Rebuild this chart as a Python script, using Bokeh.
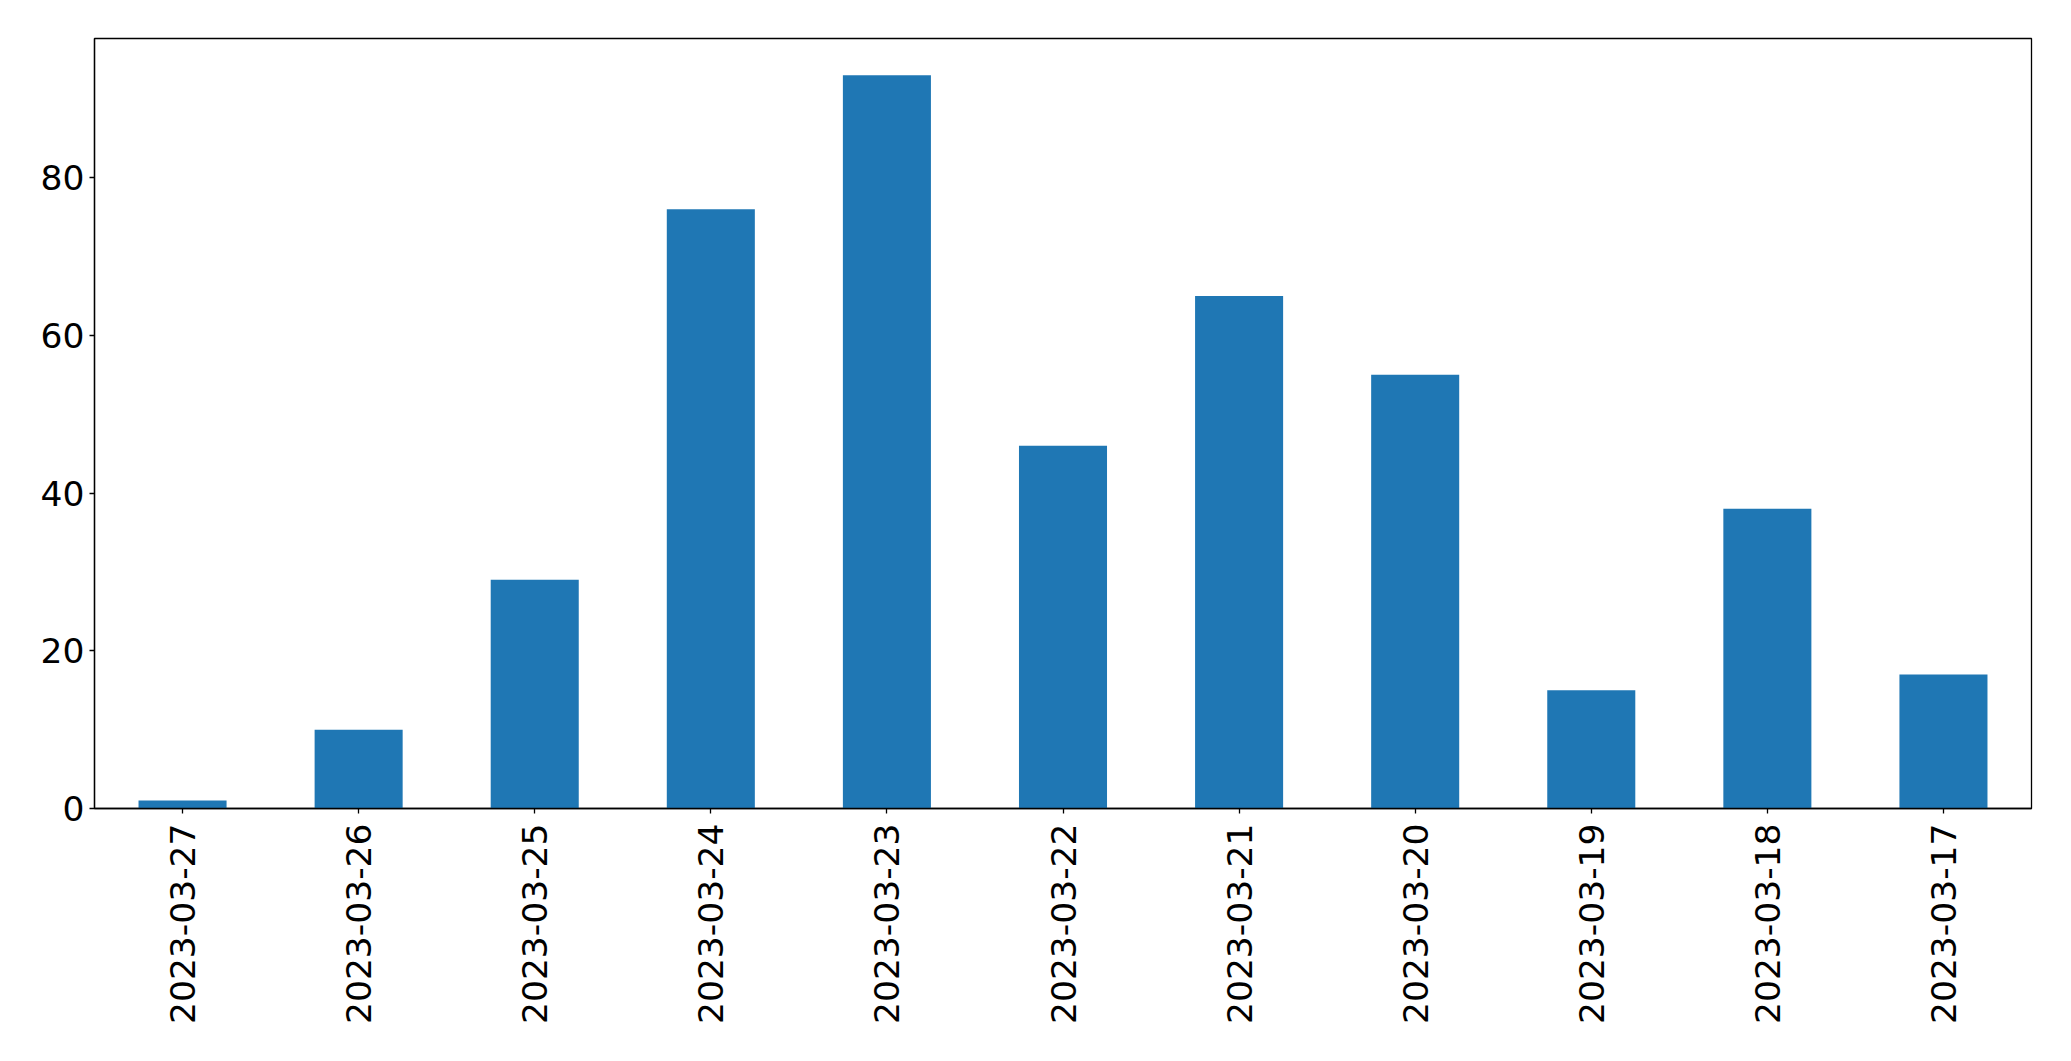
import math
from bokeh.plotting import figure
from bokeh.models import FactorRange, Range1d, FixedTicker, ColumnDataSource
from bokeh.embed import file_html
from bokeh.resources import INLINE

dates = ["2023-03-27", "2023-03-26", "2023-03-25", "2023-03-24", "2023-03-23",
         "2023-03-22", "2023-03-21", "2023-03-20", "2023-03-19", "2023-03-18",
         "2023-03-17"]
counts = [1, 10, 29, 76, 93, 46, 65, 55, 15, 38, 17]
y_ticks = [0, 20, 40, 60, 80]

src = ColumnDataSource(dict(x=dates, top=counts))

p = figure(x_range=FactorRange(*dates), y_range=Range1d(0, max(counts) * 1.05),
           frame_width=1937, frame_height=770,
           min_border_left=94, min_border_right=40, min_border_top=38, min_border_bottom=230,
           output_backend="svg", toolbar_location=None)

p.vbar(x="x", top="top", width=0.5, source=src, color="#1f77b4", line_color=None)

p.xgrid.visible = False
p.ygrid.visible = False
p.outline_line_color = "black"
p.outline_line_width = 1.3
p.outline_line_alpha = 1
p.background_fill_color = "white"
p.border_fill_color = "white"

for ax in (p.xaxis[0], p.yaxis[0]):
    ax.axis_line_color = "black"
    ax.axis_line_width = 1.3
    ax.major_tick_line_color = "black"
    ax.major_tick_line_width = 1.3
    ax.major_tick_out = 5
    ax.major_tick_in = 0
    ax.minor_tick_line_color = None
    ax.major_label_text_font = "DejaVu Sans"
    ax.major_label_text_font_size = "34.5px"
    ax.major_label_text_color = "black"

p.yaxis[0].ticker = FixedTicker(ticks=y_ticks)
p.yaxis[0].major_label_standoff = 5
p.xaxis[0].major_label_orientation = math.pi / 2
p.xaxis[0].major_label_standoff = 10

open("out.html", "w").write(file_html(p, INLINE))
